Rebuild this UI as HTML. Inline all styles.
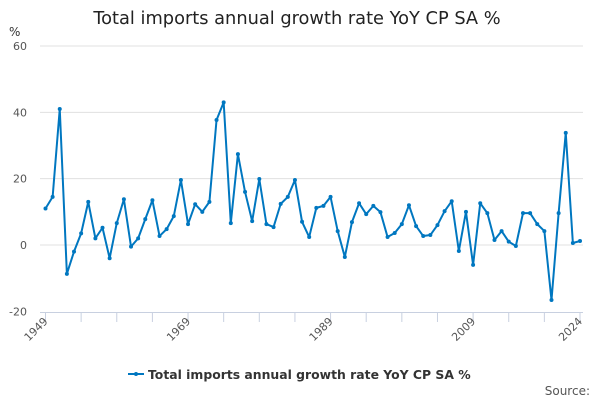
<!DOCTYPE html>
<html><head><meta charset="utf-8"><style>
body{margin:0;background:#fff;font-family:"Liberation Sans","DejaVu Sans",sans-serif}
svg text{font-family:"DejaVu Sans","Liberation Sans",sans-serif}
</style></head><body>
<svg id="chart" width="600" height="400" viewBox="0 0 600 400" xmlns="http://www.w3.org/2000/svg">
<text x="297" y="24" text-anchor="middle" font-size="17.8" fill="#222">Total imports annual growth rate YoY CP SA %</text>
<text x="9" y="36" font-size="12" fill="#333">%</text>
<g id="grid"></g><g id="xaxis"></g><g id="series"></g>
<g>
<line x1="128" y1="374" x2="144" y2="374" stroke="#0077c0" stroke-width="2"/>
<circle cx="136" cy="374" r="2" fill="#0077c0"/>
<text x="148" y="379" font-size="12.4" font-weight="bold" fill="#333">Total imports annual growth rate YoY CP SA %</text>
</g>
<text x="590" y="395" text-anchor="end" font-size="12" fill="#555">Source:</text>
</svg>
<script>
const years=[];for(let y=1949;y<=2024;y++)years.push(y);
const values=[11,14.5,41,-8.7,-2,3.5,13,2,5.2,-4,6.6,13.8,-0.5,2,7.8,13.5,2.7,4.8,8.7,19.6,6.3,12.3,10,13,37.7,43,6.6,27.4,16,7.2,19.9,6.3,5.4,12.4,14.5,19.6,7,2.4,11.2,11.8,14.5,4.2,-3.6,6.9,12.6,9.3,11.8,9.9,2.4,3.6,6.3,12,5.7,2.7,3,6,10.2,13.2,-1.8,10,-6,12.6,9.6,1.5,4.2,1,-0.3,9.6,9.6,6.3,4.2,-16.6,9.6,33.8,0.6,1.2];
const yTicks=[-20,0,20,40,60];
const xLabels=[1949,1969,1989,2009,2024];
const NS="http://www.w3.org/2000/svg";
const X=y=>45.5+(y-1949)*(580-45.5)/75;
const Y=v=>245-v*(245-46)/60;
function mk(t,a,p){const e=document.createElementNS(NS,t);for(const k in a)e.setAttribute(k,a[k]);p.appendChild(e);return e;}
const g=document.getElementById('grid');
yTicks.forEach(v=>{
 if(v>-20){const l=mk('line',{x1:40,x2:583,y1:Y(v),y2:Y(v),stroke:'#e0e0e0','stroke-width':1},g);
 
 }
 const t=mk('text',{x:27,y:Y(v)+4,'text-anchor':'end','font-size':11,fill:'#555'},g);t.textContent=v;
 
 
});
const xa=document.getElementById('xaxis');
const ax=mk('line',{x1:40,x2:583,y1:312.5,y2:312.5,stroke:'#c8d0e0','stroke-width':1},xa);


for(let y=1949;y<=2024;y+=5){mk('line',{x1:X(y),x2:X(y),y1:312,y2:322,stroke:'#c8d0e0'},xa);}
xLabels.forEach(y=>{
 const t=mk('text',{x:X(y)+3,y:322,'text-anchor':'end','font-size':11,fill:'#555',transform:`rotate(-45 ${X(y)+3} 322)`},xa);t.textContent=y;
 
 
});
const s=document.getElementById('series');
const p=mk('polyline',{points:values.map((v,i)=>X(years[i])+','+Y(v)).join(' '),fill:'none',stroke:'#0077c0','stroke-width':2,'stroke-linejoin':'round'},s);


values.forEach((v,i)=>{const c=mk('circle',{cx:X(years[i]),cy:Y(v),r:2,fill:'#0077c0'},s);
 
 });
</script>
</body></html>
